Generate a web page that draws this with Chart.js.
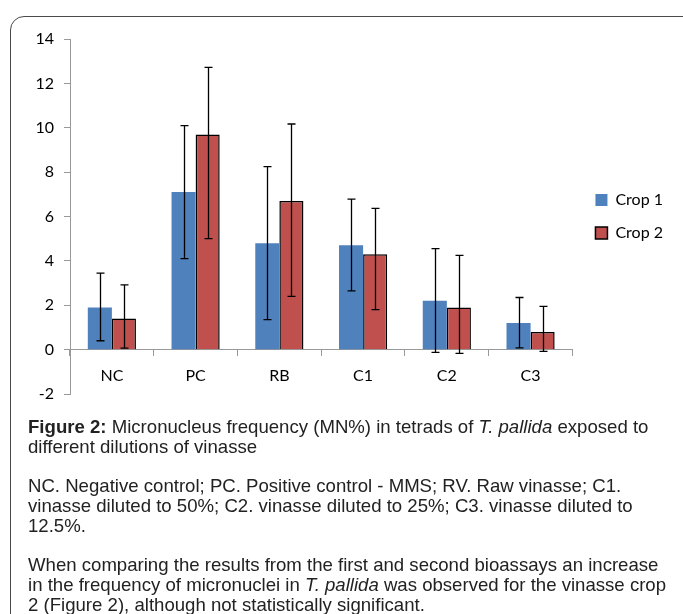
<!DOCTYPE html>
<html>
<head>
<meta charset="utf-8">
<script src="https://cdn.jsdelivr.net/npm/chart.js@4.4.0/dist/chart.umd.min.js"></script>
<style>
  body { margin: 0; background: #fff; width: 683px; height: 614px; overflow: hidden; position: relative; }
  .frame { position: absolute; left: 10px; top: 16px; width: 700px; height: 620px; border: 1px solid #4a4a4a; border-radius: 14px; }
  #wrap { position: absolute; left: 0; top: 0; width: 683px; height: 420px; }
  .caption { position: absolute; left: 28px; top: 417px; width: 645px; font-family: "Liberation Sans", Arial, sans-serif; font-size: 18.6px; line-height: 20px; color: #222; }
  .caption p { margin: 0 0 19px 0; }
</style>
</head>
<body>
<div class="frame"></div>
<div id="wrap"><canvas id="chart" width="683" height="420"></canvas></div>
<div class="caption">
  <p><b>Figure 2:</b> Micronucleus frequency (MN%) in tetrads of <i>T. pallida</i> exposed to different dilutions of vinasse</p>
  <p>NC. Negative control; PC. Positive control - MMS; RV. Raw vinasse; C1. vinasse diluted to 50%; C2. vinasse diluted to 25%; C3. vinasse diluted to 12.5%.</p>
  <p>When comparing the results from the first and second bioassays an increase in the frequency of micronuclei in <i>T. pallida</i> was observed for the vinasse crop 2 (Figure 2), although not statistically significant.</p>
</div>
<script>
const categories = ['NC', 'PC', 'RB', 'C1', 'C2', 'C3'];
const crop1 = [1.9, 7.1, 4.8, 4.7, 2.2, 1.2];
const crop2 = [1.4, 9.7, 6.7, 4.3, 1.9, 0.8];
// error bar ends (low / high)
const crop1Low = [0.4, 4.1, 1.35, 2.65, -0.12, 0.08];
const crop1High = [3.45, 10.1, 8.25, 6.78, 4.55, 2.35];
const crop2Low = [0.07, 5.0, 2.4, 1.8, -0.17, -0.08];
const crop2High = [2.92, 12.72, 10.17, 6.37, 4.25, 1.95];
const yTicks = [-2, 0, 2, 4, 6, 8, 10, 12, 14];

const errorBars = {
    id: 'errorBars',
    afterDatasetsDraw(chart) {
        const ctx = chart.ctx;
        const y = chart.scales.y;
        const ranges = [[crop1Low, crop1High], [crop2Low, crop2High]];
        ctx.save();
        ctx.strokeStyle = '#000';
        ctx.lineWidth = 1.3;
        chart.data.datasets.forEach((ds, d) => {
            const meta = chart.getDatasetMeta(d);
            meta.data.forEach((bar, i) => {
                const x = Math.round(bar.x) + 0.5;
                const top = y.getPixelForValue(ranges[d][1][i]);
                const bot = y.getPixelForValue(ranges[d][0][i]);
                ctx.beginPath();
                ctx.moveTo(x, top); ctx.lineTo(x, bot);
                ctx.moveTo(x - 4, top); ctx.lineTo(x + 4, top);
                ctx.moveTo(x - 4, bot); ctx.lineTo(x + 4, bot);
                ctx.stroke();
            });
        });
        ctx.restore();
    }
};

const ctx = document.getElementById('chart').getContext('2d');
new Chart(ctx, {
    type: 'bar',
    data: {
        labels: categories,
        datasets: [{
            label: 'Crop 1',
            data: crop1,
            backgroundColor: '#4F81BD',
            borderWidth: 0
        }, {
            label: 'Crop 2',
            data: crop2,
            backgroundColor: '#C0504D',
            borderColor: '#000',
            borderWidth: 1.5
        }]
    },
    options: {
        responsive: false,
        animation: false,
        layout: { padding: { left: 10, top: 39, bottom: 26, right: 10 } },
        categoryPercentage: 0.575,
        barPercentage: 1,
        plugins: {
            tooltip: { enabled: false },
            legend: {
                position: 'right',
                labels: {
                    color: '#000',
                    font: { family: 'Lato', size: 16 },
                    boxWidth: 12,
                    boxHeight: 12,
                    padding: 17
                }
            }
        },
        scales: {
            x: {
                position: { y: 0 },
                grid: { offset: true, drawOnChartArea: false, tickLength: 6, color: '#999' },
                border: { color: '#999' },
                ticks: { color: '#000', font: { family: 'Lato', size: 16 }, padding: 11 }
            },
            y: {
                min: -2,
                max: 14,
                afterFit(scale) { scale.width = 60; },
                afterBuildTicks(scale) { scale.ticks = yTicks.map(v => ({ value: v })); },
                grid: { drawOnChartArea: false, tickLength: 6, color: '#999' },
                border: { color: '#999' },
                ticks: { color: '#000', font: { family: 'Lato', size: 16 }, padding: 10 }
            },
            // empty spacer between plot and legend
            spacer: {
                type: 'linear',
                position: 'right',
                grid: { display: false },
                border: { display: false },
                ticks: { display: false },
                afterFit(scale) { scale.width = 6; }
            }
        }
    },
    plugins: [errorBars]
});
</script>
</body>
</html>
